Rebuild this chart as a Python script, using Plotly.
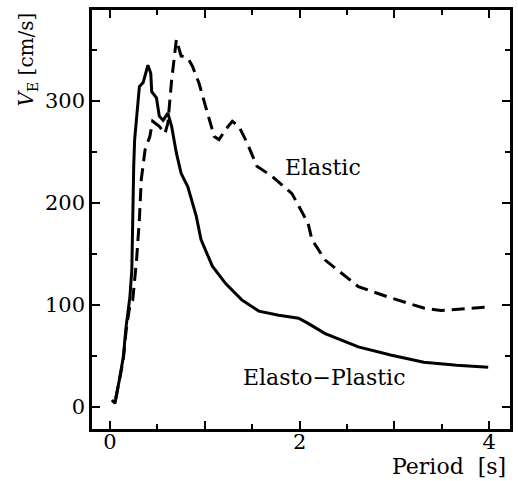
import plotly.graph_objects as go

# Elasto-Plastic (solid)
ep_T = [0.02, 0.052, 0.105, 0.14, 0.17, 0.21, 0.23, 0.235, 0.24, 0.25, 0.26, 0.31, 0.35, 0.37, 0.40, 0.43,
        0.44, 0.49, 0.52, 0.56, 0.61, 0.65, 0.70, 0.75, 0.82, 0.91, 0.96, 1.08, 1.22, 1.39, 1.57, 1.78,
        1.99, 2.09, 2.27, 2.62, 2.96, 3.31, 3.66, 3.99]
ep_V = [7, 3.6, 30, 49, 79, 108, 134, 167, 184, 236, 262, 314, 318, 326, 335, 327,
        309, 303, 285, 281, 288, 275, 249, 229, 216, 187, 164, 138, 121, 105, 94, 90,
        87, 82, 72, 59, 51, 44, 41, 39]

# Elastic (dashed)
el_T = [0.06, 0.105, 0.14, 0.17, 0.21, 0.24, 0.28, 0.31, 0.33, 0.37, 0.42, 0.45, 0.52, 0.58, 0.61, 0.65,
        0.70, 0.75, 0.82, 0.87, 0.94, 1.01, 1.10, 1.15, 1.22, 1.29, 1.36, 1.45, 1.55, 1.71, 1.92,
        2.09, 2.13, 2.27, 2.44, 2.62, 2.96, 3.31, 3.49, 3.80, 4.00]
el_V = [8, 28, 46, 75, 100, 105, 144, 184, 223, 252, 265, 280, 275, 268, 278, 320,
        360, 344, 342, 334, 317, 294, 265, 262, 272, 280, 275, 258, 236, 226, 209,
        180, 164, 144, 131, 118, 107, 97, 94.5, 97, 98]

y_ticks = [0, 100, 200, 300]

font_family = "DejaVu Serif"

fig = go.Figure()
fig.add_trace(go.Scatter(x=ep_T, y=ep_V, mode="lines", line=dict(color="black", width=3), showlegend=False))
fig.add_trace(go.Scatter(x=el_T, y=el_V, mode="lines", line=dict(color="black", width=3, dash="13px,7px"), showlegend=False))

axis_common = dict(showline=True, linecolor="black", linewidth=2.5, mirror="allticks", ticks="inside",
                   tickcolor="black", tickwidth=2, ticklen=8, showgrid=False, zeroline=False,
                   tickfont=dict(family=font_family, size=21, color="black"))

fig.update_xaxes(range=[-0.19, 4.22], tickmode="linear", tick0=0, dtick=1, ticklabelstep=2,
                 minor=dict(dtick=0.5, ticks="inside", ticklen=5, tickwidth=2, tickcolor="black"),
                 **axis_common)
fig.update_yaxes(range=[-21.5, 389], tickvals=y_ticks,
                 minor=dict(dtick=50, ticks="inside", ticklen=5, tickwidth=2, tickcolor="black"),
                 **axis_common)
try:
    fig.update_xaxes(ticklabelstandoff=-8)
except Exception:
    pass

ann_font = dict(family=font_family, size=22, color="black")
fig.add_annotation(xref="paper", yref="paper", x=(325 - 92) / 421, y=(429 - 167) / 419, text="Elastic",
                   xanchor="center", yanchor="middle", showarrow=False, font=ann_font)
fig.add_annotation(xref="paper", yref="paper", x=(326 - 92) / 421, y=(429 - 377) / 419, text="Elasto\u2212Plastic",
                   xanchor="center", yanchor="middle", showarrow=False, font=ann_font)
fig.add_annotation(xref="paper", yref="paper", x=(511 - 92) / 421, y=(429 - 467) / 419, text="Period  [s]",
                   xanchor="right", yanchor="middle", showarrow=False, font=ann_font)
fig.add_annotation(xref="paper", yref="paper", x=(27 - 92) / 421, y=1.0,
                   text="<i>V</i><sub>E</sub> [cm/s]", textangle=-90, xanchor="center", yanchor="top",
                   showarrow=False, font=dict(family=font_family, size=20, color="black"))

fig.update_layout(width=518, height=481, margin=dict(l=92, r=5, t=10, b=52),
                  paper_bgcolor="white", plot_bgcolor="white")
fig.write_html("out.html")
